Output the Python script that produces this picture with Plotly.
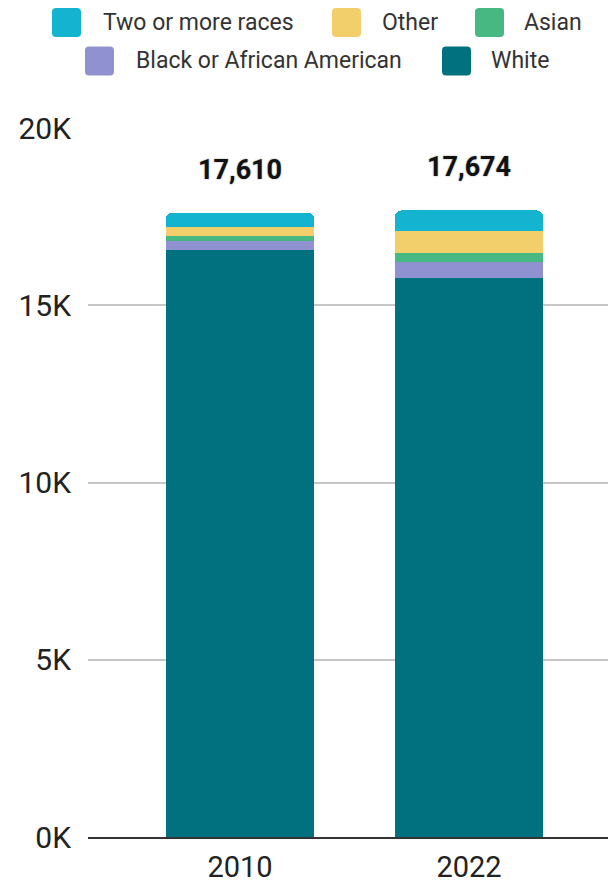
import plotly.graph_objects as go

# ---- data ----
years = ["2010", "2022"]
white = [16550, 15759]
black = [270, 460]
asian = [130, 265]
other = [270, 610]
two_or_more = [390, 580]
totals = [17610, 17674]

series_names = ["White", "Black or African American", "Asian", "Other", "Two or more races"]
series_values = [white, black, asian, other, two_or_more]
series_colors = ["#01717F", "#9091D0", "#48B882", "#F3CF6C", "#14B4D0"]

y_tickvals = [0, 5000, 10000, 15000, 20000]
y_ticktext = ["0K", "5K", "10K", "15K", "20K"]

# ---- layout geometry (pixels) ----
W, H = 608, 883
ML, MR, MT, MB = 88, 0, 128, 46
PW, PH = W - ML - MR, H - MT - MB


def px(x):
    return (x - ML) / PW


def py(y):
    return (H - MB - y) / PH


FONT = "Roboto"

fig = go.Figure()
for name, vals, col in zip(series_names, series_values, series_colors):
    fig.add_trace(go.Bar(
        x=years, y=vals, name=name, marker=dict(color=col, line=dict(width=0)),
        showlegend=False, hoverinfo="skip",
    ))

# total labels (category index used as x position)
for i, tot in enumerate(totals):
    fig.add_annotation(
        x=i, y=tot, xref="x", yref="y", text=f"{tot:,}", showarrow=False,
        yanchor="bottom", yshift=25,
        font=dict(family=FONT, size=27, color="#111111", weight="bold",
                  shadow="0px 0px 2px #9a9a9a"),
    )

# custom legend (rows as in the reference)
legend_items = [
    ("Two or more races", "#14B4D0", 52, 101, 22.5),
    ("Other", "#F3CF6C", 332, 380, 22.5),
    ("Asian", "#48B882", 475, 522, 22.5),
    ("Black or African American", "#9091D0", 85, 134, 61),
    ("White", "#01717F", 442, 489, 61),
]
S = 29
R = 4
for label, col, sx, tx, cy in legend_items:
    x0, x1 = sx, sx + S
    y0, y1 = cy - S / 2, cy + S / 2
    pts = (
        f"M{px(x0 + R)},{py(y0)} L{px(x1 - R)},{py(y0)} Q{px(x1)},{py(y0)} {px(x1)},{py(y0 + R)} "
        f"L{px(x1)},{py(y1 - R)} Q{px(x1)},{py(y1)} {px(x1 - R)},{py(y1)} "
        f"L{px(x0 + R)},{py(y1)} Q{px(x0)},{py(y1)} {px(x0)},{py(y1 - R)} "
        f"L{px(x0)},{py(y0 + R)} Q{px(x0)},{py(y0)} {px(x0 + R)},{py(y0)} Z"
    )
    fig.add_shape(type="path", path=pts, xref="paper", yref="paper",
                  fillcolor=col, line=dict(width=0), layer="above")
    fig.add_annotation(
        x=px(tx), y=py(cy), xref="paper", yref="paper", text=label, showarrow=False,
        xanchor="left", yanchor="middle",
        font=dict(family=FONT, size=23, color="#333333"),
    )

fig.update_layout(
    width=W, height=H,
    margin=dict(l=ML, r=MR, t=MT, b=MB, pad=0, autoexpand=False),
    barmode="stack", bargap=0.354, barcornerradius=6,
    plot_bgcolor="white", paper_bgcolor="white",
    font=dict(family=FONT, color="#222222"),
    showlegend=False,
    xaxis=dict(
        type="category", range=[-0.664, 1.607], showgrid=False,
        showline=True, linecolor="#333333", linewidth=2,
        ticks="", ticklabelstandoff=3, automargin=False,
        tickfont=dict(family=FONT, size=29, color="#222222"),
        fixedrange=True,
    ),
    yaxis=dict(
        range=[0, 20000], tickvals=y_tickvals, ticktext=y_ticktext,
        showgrid=True, gridcolor="#c6c6c6", gridwidth=2,
        zeroline=False, showline=False, ticks="", ticklabelstandoff=16,
        automargin=False,
        tickfont=dict(family=FONT, size=30, color="#222222"),
        fixedrange=True,
    ),
)

post = ("document.body.style.margin='0';document.body.style.padding='0';"
        "document.documentElement.style.overflow='hidden';"
        "document.body.style.overflow='hidden';")
fig.write_html("out.html", config={"displayModeBar": False}, post_script=post)
